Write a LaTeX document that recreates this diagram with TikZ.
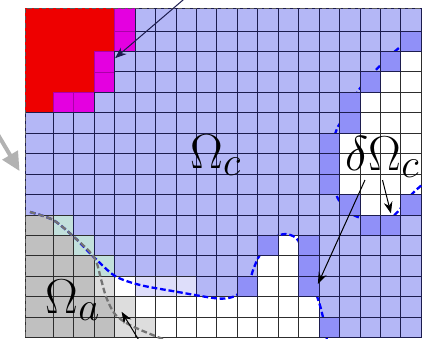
\documentclass[tikz,border=0pt]{standalone}
\usepackage{tikz}
\usetikzlibrary{arrows.meta}
\usepackage{xcolor}

\definecolor{cellred}{RGB}{238,0,0}
\definecolor{cellmag}{RGB}{228,0,224}
\definecolor{cellblue}{RGB}{180,183,246}
\definecolor{celldelta}{RGB}{144,144,248}
\definecolor{cellgray}{RGB}{192,192,192}
\definecolor{celllight}{RGB}{221,221,221}
\definecolor{cellteal}{RGB}{194,224,220}
\definecolor{celllav}{RGB}{222,222,250}
\definecolor{gridnavy}{RGB}{28,28,78}
\definecolor{griddark}{RGB}{45,45,45}

% one row of cells: row index, list of cell codes
\newcommand{\cellrow}[2]{%
    \foreach \k [count=\c from 0] in {#2} {
        \pgfmathsetmacro{\xl}{ifthenelse(\c==0,-0.384,\c)}
        \pgfmathsetmacro{\yt}{ifthenelse(#1==0,-0.11,#1)}
        \draw[cell \k] (\xl,\yt) rectangle (\c+1,#1+1);
    }%
}

\begin{document}
\begin{tikzpicture}[
    x=0.5cm, y=-0.5cm,
    line width=0.65pt,
    cell R/.style={fill=cellred, draw=none},
    cell M/.style={fill=cellmag, draw=cellmag!75!black, line width=0.4pt},
    cell B/.style={fill=cellblue, draw=gridnavy},
    cell D/.style={fill=celldelta, draw=gridnavy},
    cell W/.style={fill=white, draw=griddark},
    cell G/.style={fill=cellgray, draw=griddark},
    cell L/.style={fill=celllight, draw=griddark},
    cell T/.style={fill=cellteal, draw=griddark},
    cell V/.style={fill=celllav, draw=griddark!70!gridnavy},
    region label/.style={inner sep=0pt, anchor=base west, font=\Huge, scale=1.37},
    boundary/.style={dash pattern=on 4pt off 2pt, line width=1.6pt},
    pointer/.style={-{Stealth[length=8pt, width=6pt]}, line width=0.7pt}
]
    \useasboundingbox (-1.606,-0.516) rectangle (19.03,16.06);
    \clip (-1.606,-0.516) rectangle (19.03,16.06);

    % Cells
    \cellrow{0}{R,R,R,R,M,B,B,B,B,B,B,B,B,B,B,B,B,B,B}
    \cellrow{1}{R,R,R,R,M,B,B,B,B,B,B,B,B,B,B,B,B,B,D}
    \cellrow{2}{R,R,R,M,B,B,B,B,B,B,B,B,B,B,B,B,B,D,W}
    \cellrow{3}{R,R,R,M,B,B,B,B,B,B,B,B,B,B,B,B,D,W,W}
    \cellrow{4}{R,M,M,B,B,B,B,B,B,B,B,B,B,B,B,D,W,W,W}
    \cellrow{5}{B,B,B,B,B,B,B,B,B,B,B,B,B,B,B,D,W,W,W}
    \cellrow{6}{B,B,B,B,B,B,B,B,B,B,B,B,B,B,D,W,W,W,W}
    \cellrow{7}{B,B,B,B,B,B,B,B,B,B,B,B,B,B,D,W,W,W,W}
    \cellrow{8}{B,B,B,B,B,B,B,B,B,B,B,B,B,B,D,W,W,W,W}
    \cellrow{9}{B,B,B,B,B,B,B,B,B,B,B,B,B,B,B,D,W,W,D}
    \cellrow{10}{G,T,B,B,B,B,B,B,B,B,B,B,B,B,B,B,D,D,B}
    \cellrow{11}{G,G,T,B,B,B,B,B,B,B,B,D,W,D,B,B,B,B,B}
    \cellrow{12}{G,G,G,T,B,B,B,B,B,B,B,W,W,D,B,B,B,B,B}
    \cellrow{13}{G,G,G,L,W,V,V,V,B,B,D,W,W,D,B,B,B,B,B}
    \cellrow{14}{G,G,G,G,L,W,W,W,W,W,W,W,W,W,B,B,B,B,B}
    \cellrow{15}{G,G,G,G,L,L,W,W,W,W,W,W,W,W,D,B,B,B,B}

    % Boundary of Omega_c (runs under the delta cells)
    \draw[boundary, blue] plot[smooth] coordinates {(-0.14,9.85) (0.99,10.24) (2.01,11.07) (3.0,12.07)
        (4.02,12.98) (5.24,13.42) (7.03,13.75) (8.71,14.04) (9.4,14.08) (9.97,13.91) (10.55,13.3)
        (10.8,12.6) (11.1,11.95) (11.6,11.25) (12.0,11.0) (12.46,10.94) (12.98,11.25) (13.3,12.5)
        (13.9,13.99) (14.17,14.92) (14.45,16.5)};
    \draw[boundary, blue] plot[smooth] coordinates {(19.3,0.9) (18.6,1.35) (17.79,1.92) (16.81,2.87)
        (15.91,3.93) (15.45,4.95) (14.86,5.81) (14.45,7.5) (14.91,9.18) (15.6,9.95) (16.6,10.3)
        (17.4,10.2) (17.84,9.84) (18.57,8.94) (19.3,8.3)};

    % Delta cells on top
    \foreach \c/\r in {18/1, 17/2, 16/3, 15/4, 15/5, 14/6, 14/7, 14/8, 15/9, 18/9,
                       16/10, 17/10, 11/11, 13/11, 13/12, 10/13, 13/13, 14/15}
        \draw[cell D] (\c,\r) rectangle (\c+1,\r+1);

    % Boundary of Omega_a
    \draw[boundary, black!55] plot[smooth] coordinates {(-0.14,9.85) (0.99,10.24) (2.01,11.07)
        (3.0,12.07) (3.35,13.2) (3.6,14.05) (4.02,14.85) (4.75,15.38) (5.97,15.91) (7.0,16.3)};

    % Frame
    \draw[dash pattern=on 3pt off 2pt, black!65] (-0.384,16.3) -- (-0.384,-0.11) -- (19.3,-0.11);

    % Nodes
    \node[region label] (omegaC) at (7.68,7.70) {$\Omega_c$};
    \node[region label] (dOmegaC) at (15.26,7.80) {$\delta\Omega_c$};
    \node[region label] (omegaA) at (0.594,14.79) {$\Omega_a$};

    \coordinate (topfrom) at (7.44,-0.6);
    \coordinate (toptip) at (4.02,2.33);
    \coordinate (dfromA) at (16.24,8.29);
    \coordinate (dtipA) at (13.94,13.37);
    \coordinate (dfromB) at (17.10,8.29);
    \coordinate (dtipB) at (17.51,9.92);
    \coordinate (botfrom) at (5.48,16.6);
    \coordinate (bottip) at (4.34,14.73);
    \coordinate (grayfrom) at (-1.9,5.74);
    \coordinate (graytip) at (-0.65,7.85);

    % Edges
    \draw[pointer, gridnavy] (topfrom) -- (toptip);
    \draw[pointer] (dfromA) -- (dtipA);
    \draw[pointer] (dfromB) -- (dtipB);
    \draw[pointer] (botfrom) -- (bottip);
    \draw[-{Triangle[length=13pt, width=12pt]}, line width=2.8pt, black!30] (grayfrom) -- (graytip);
\end{tikzpicture}
\end{document}
